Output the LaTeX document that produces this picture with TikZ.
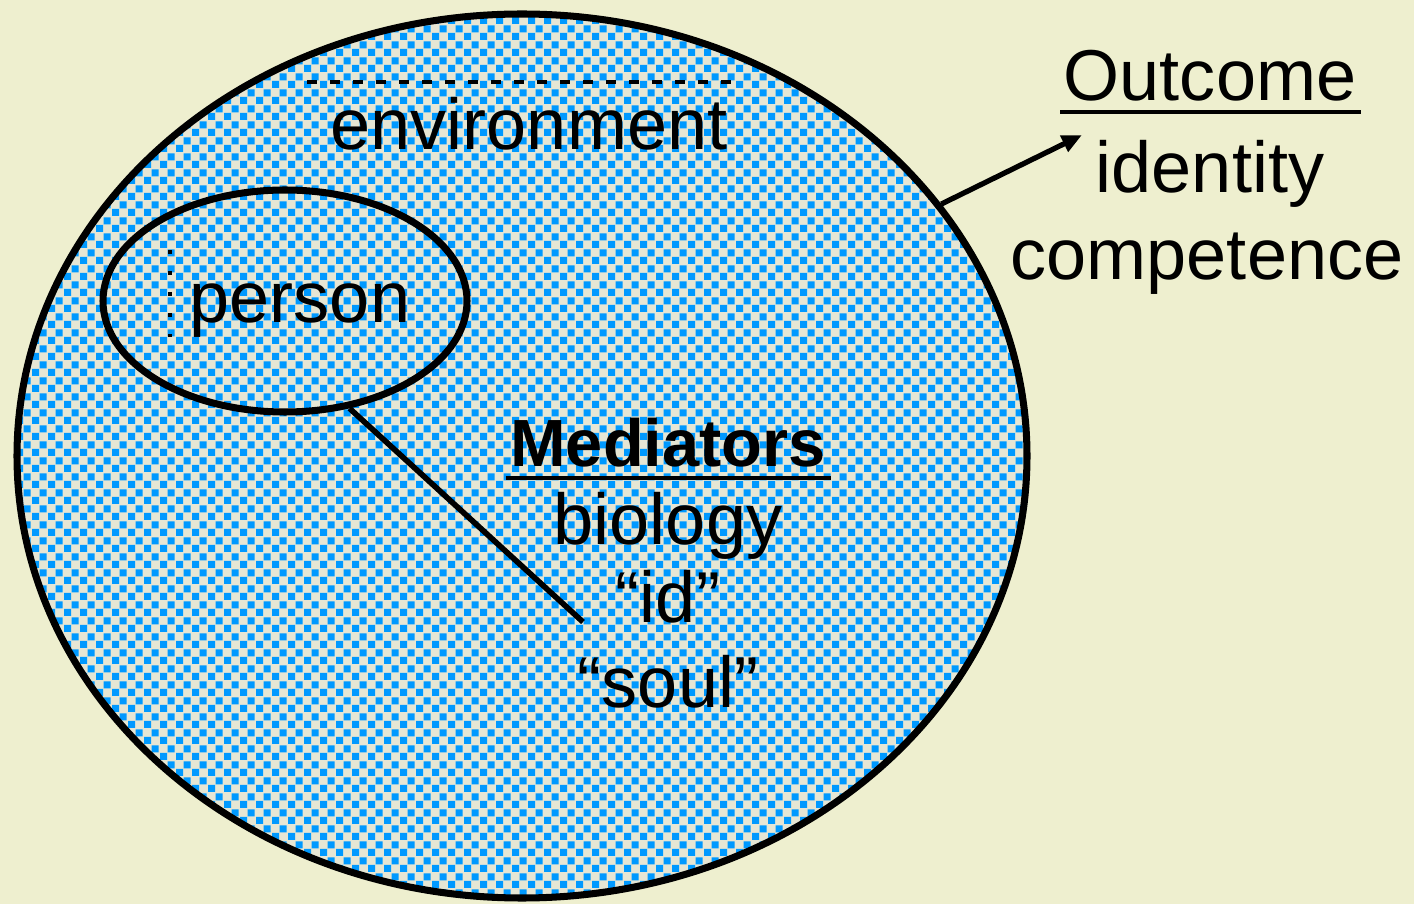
\documentclass[tikz,border=0pt]{standalone}
\usepackage{fontspec}
\setmainfont{Liberation Sans}
\usetikzlibrary{positioning,arrows.meta,shapes.geometric,patterns,calc}
\definecolor{paperyellow}{HTML}{EEEFCF}
\definecolor{envbeige}{HTML}{E6E6D4}
\definecolor{dotblue}{HTML}{0099FF}

% coarse dither used inside the environment
\pgfdeclarepatternformonly{dither}{\pgfpointorigin}{\pgfpoint{0.16cm}{0.16cm}}{\pgfpoint{0.16cm}{0.16cm}}{
  \pgfpathrectangle{\pgfpointorigin}{\pgfpoint{0.075cm}{0.075cm}}
  \pgfpathrectangle{\pgfpoint{0.08cm}{0.08cm}}{\pgfpoint{0.075cm}{0.075cm}}
  \pgfusepath{fill}
}

\begin{document}
\begin{tikzpicture}[
    word/.style={inner sep=0pt, font=\fontsize{20.5}{24}\selectfont, anchor=base},
    head/.style={inner sep=0pt, font=\fontsize{19}{23}\selectfont\bfseries, anchor=base},
    ring/.style={ellipse, draw=black, line width=2pt, inner sep=0pt},
    rule/.style={line width=1.2pt},
    link/.style={line width=1.6pt},
    arrow/.style={-{Triangle[length=0.2cm, width=0.17cm]}, line width=1.5pt},
]

% Paper
\fill[paperyellow] (0,0) rectangle (14.14,-9.04);
\useasboundingbox (0,0) rectangle (14.14,-9.04);

% Environment
\node[ring, preaction={fill=envbeige}, pattern=dither, pattern color=dotblue,
      minimum width=10.10cm, minimum height=8.84cm] (world) at (5.22,-4.56) {};
\draw[line width=0.04cm, dash pattern=on 0.1cm off 0.13cm] (3.07,-0.82) -- (7.40,-0.82);
\node[word] (envtxt) at (5.29,-1.50) {environment};

% Person
\node[ring, minimum width=3.64cm, minimum height=2.22cm] (self) at (2.85,-3.01) {};
\draw[line width=0.04cm, dash pattern=on 0.04cm off 0.17cm] (1.70,-2.50) -- (1.70,-3.37);
\node[word] (persontxt) at (3.00,-3.23) {person};

% Mediators
\node[head] (med) at (6.68,-4.67) {Mediators};
\draw[rule] ([xshift=-0.04cm, yshift=-0.11cm]med.base west) -- ([xshift=0.05cm, yshift=-0.11cm]med.base east);
\node[word] (bio) at ([yshift=-0.78cm]med.base) {biology};
\node[word] (idtxt) at ([yshift=-0.78cm]bio.base) {“id”};
\node[word] (soul) at ([yshift=-0.84cm]idtxt.base) {“soul”};

% Outcome
\node[word] (outc) at (12.10,-1.01) {Outcome};
\draw[rule] ([xshift=-0.03cm, yshift=-0.11cm]outc.base west) -- ([xshift=0.04cm, yshift=-0.11cm]outc.base east);
\node[word] (ident) at ([yshift=-0.92cm]outc.base) {identity};
\node[word] (comp) at ([xshift=-0.03cm, yshift=-0.87cm]ident.base) {competence};

% Connectors
\coordinate (meet) at (5.83,-6.22);
\draw[link] (self.-59) -- (meet);
\coordinate (tip) at (10.82,-1.35);
\draw[arrow] (world.31) -- (tip);

\end{tikzpicture}
\end{document}
